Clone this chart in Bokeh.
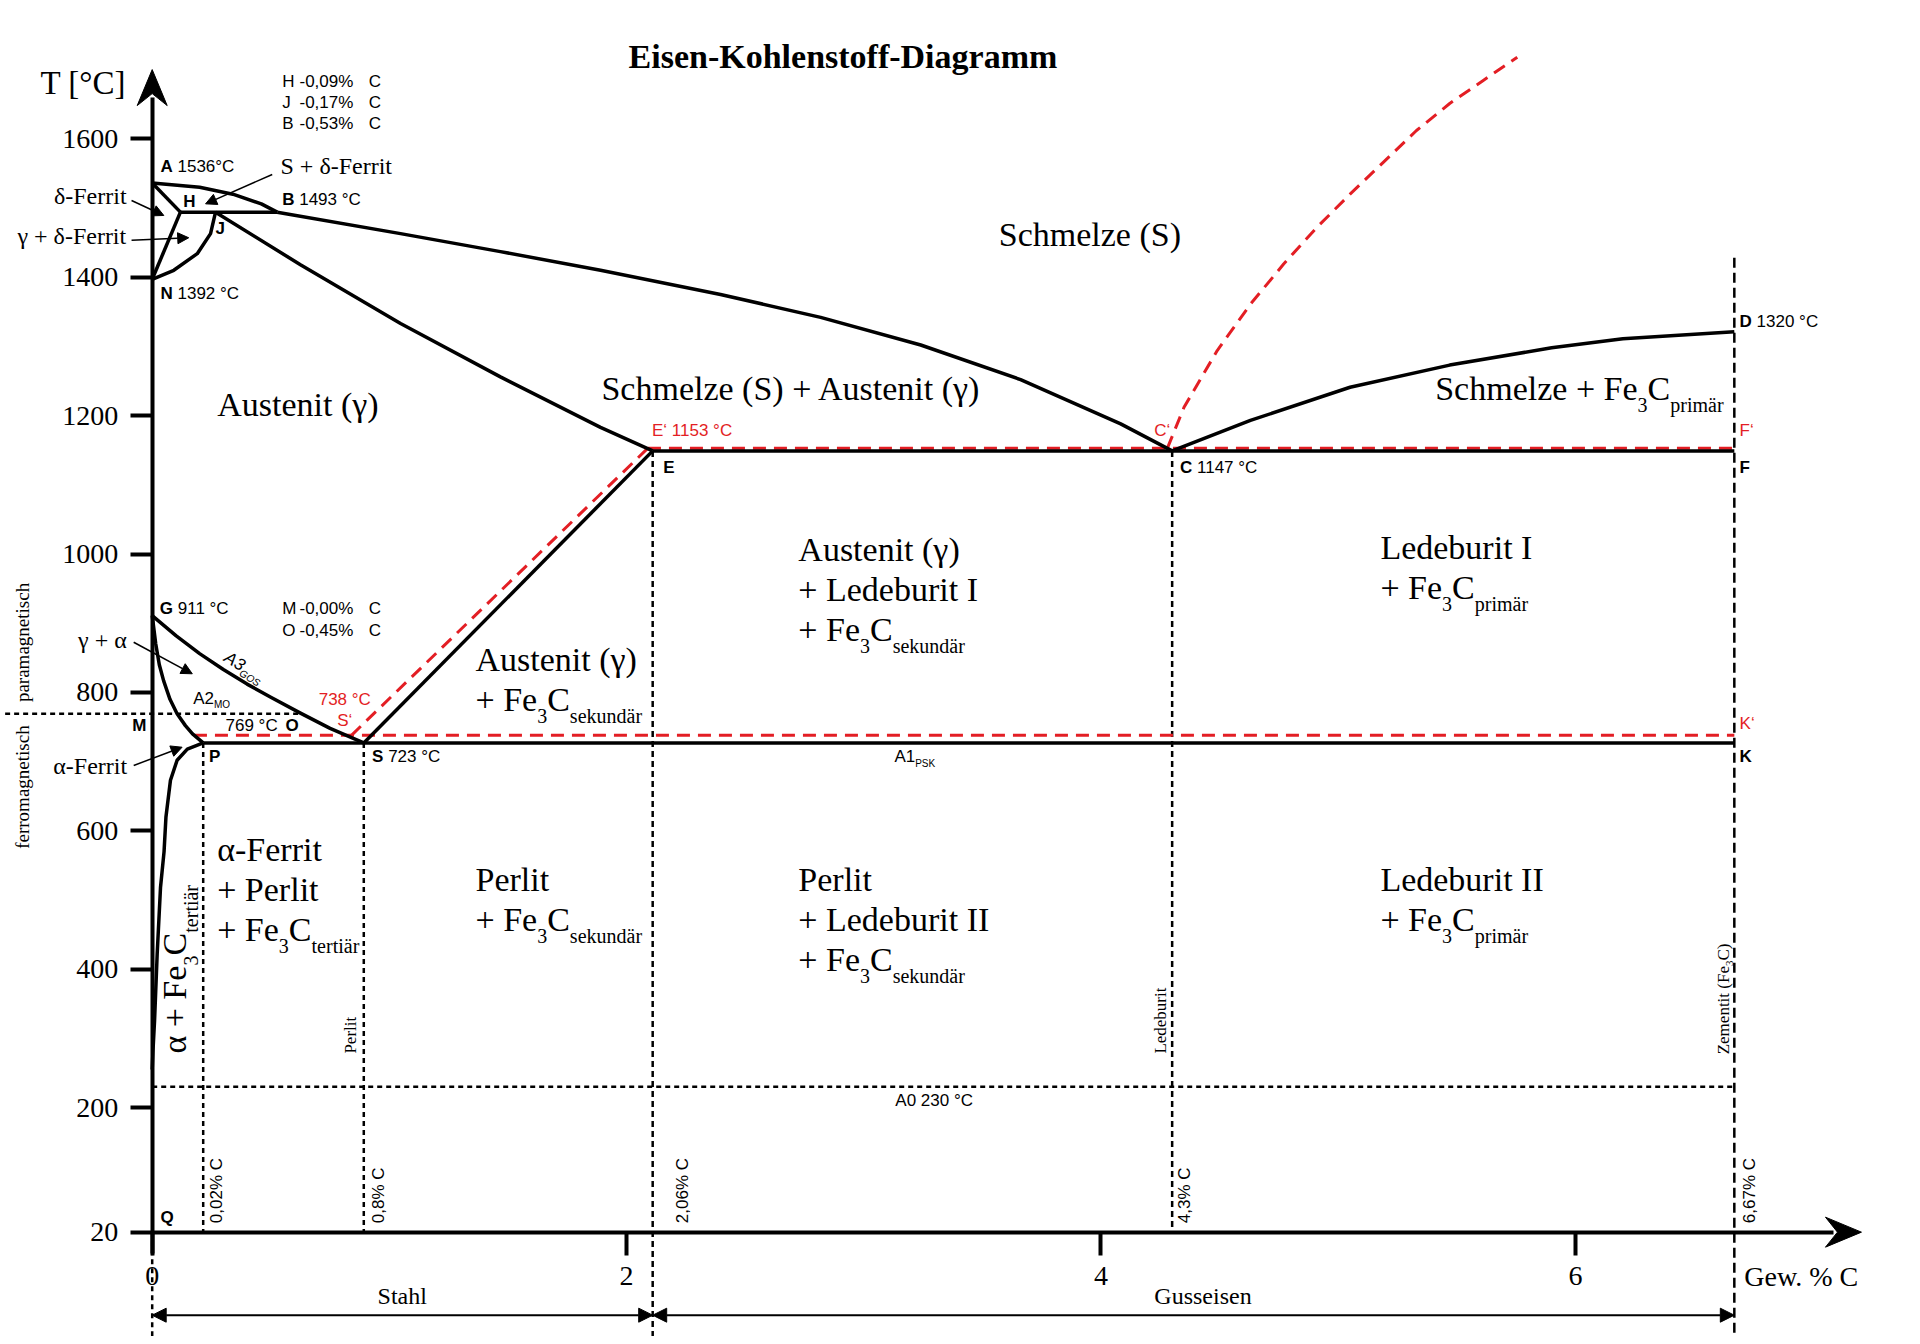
import math
from bokeh.plotting import figure
from bokeh.models import Range1d, LinearAxis, FixedTicker, Arrow, NormalHead
from bokeh.core.properties import value
from bokeh.embed import file_html
from bokeh.resources import INLINE

# ---------------- axis values ----------------
y_ticks = [20, 200, 400, 600, 800, 1000, 1200, 1400, 1600]
x_ticks = [0, 2, 4, 6]

# ---------------- phase boundaries (wt.-% C, °C) ----------------
liq_AB_x = [0.0, 0.20, 0.34, 0.46, 0.527]
liq_AB_t = [1536, 1530, 1520, 1506, 1494]
sol_AH_x = [0.0, 0.119]
sol_AH_t = [1536, 1494]
lin_NH_x = [0.0, 0.119]
lin_NH_t = [1397, 1494]
lin_NJ_x = [0.0, 0.091, 0.19, 0.246, 0.267]
lin_NJ_t = [1397, 1410, 1434, 1463, 1494]
per_HB_x = [0.119, 0.527]
per_HB_t = [1494, 1494]
liq_BC_x = [0.527, 1.047, 1.468, 1.890, 2.396, 2.818, 3.240, 3.661, 4.083, 4.30]
liq_BC_t = [1494, 1463, 1437, 1410, 1375, 1342, 1302, 1252, 1188, 1149]
sol_JE_x = [0.267, 0.625, 1.047, 1.468, 1.890, 2.11]
sol_JE_t = [1494, 1418, 1333, 1256, 1183, 1149]
liq_CD_x = [4.30, 4.63, 5.05, 5.47, 5.90, 6.20, 6.67]
liq_CD_t = [1149, 1193, 1241, 1273, 1298, 1311, 1321]
eut_ECF_x = [2.11, 6.67]
eut_ECF_t = [1149, 1149]
a3_GS_x = [0.0, 0.1, 0.2, 0.3, 0.4, 0.5, 0.625, 0.75, 0.892]
a3_GS_t = [911, 882, 856, 833, 812, 793, 770, 748, 727]
a2_GP_x = [0.0, 0.015, 0.03, 0.048, 0.075, 0.105, 0.14, 0.17, 0.215]
a2_GP_t = [911, 870, 840, 817, 790, 769, 752, 740, 727]
sol_PQ_x = [0.215, 0.148, 0.105, 0.077, 0.058, 0.05, 0.035, 0.021, 0.01, 0.003, 0.0]
sol_PQ_t = [727, 718, 702, 673, 620, 570, 518, 422, 326, 280, 255]
acm_SE_x = [0.892, 2.11]
acm_SE_t = [727, 1149]
eut_PSK_x = [0.215, 6.67]
eut_PSK_t = [727, 727]

# stable system (graphite), red dashed
st_EF_x = [2.09, 6.67]
st_EF_t = [1153, 1153]
st_SK_x = [0.176, 6.67]
st_SK_t = [738, 738]
st_SE_x = [0.84, 2.09]
st_SE_t = [738, 1153]
st_C_x = [4.28, 4.35, 4.49, 4.63, 4.77, 4.91, 5.05, 5.19, 5.33, 5.47, 5.61, 5.755]
st_C_t = [1153, 1212, 1294, 1361, 1419, 1472, 1520, 1566, 1612, 1651, 1684, 1718]

# guide lines
curie_x = [-0.62, 0.625]
curie_t = [769, 769]
a0_x = [0.0, 6.67]
a0_t = [230, 230]
comp_x = [0.0, 0.215, 0.892, 2.11, 4.30, 6.67]
comp_top = [20, 727, 727, 1149, 1149, 1428]
comp_bottom = [-140, 20, 20, -140, 20, -140]
comp_dash = ["5 4", "5 4", "5 4", "6 4", "6 4", "10 5"]

# ranges of steel / cast iron
stahl_x = [0.0, 2.11]
guss_x = [2.11, 6.67]
range_t = -100

# ---------------- figure ----------------
W_FRAME, H_FRAME = 1904, 1336
X0, X1 = -0.63954, 7.38744
T0, T1 = -130.78, 1799.86
SX = W_FRAME / (X1 - X0)   # px per wt.-%
SY = H_FRAME / (T1 - T0)   # px per °C

RED = "#E31E24"
BLACK = "black"

p = figure(frame_width=W_FRAME, frame_height=H_FRAME,
           x_range=Range1d(X0, X1), y_range=Range1d(T0, T1),
           x_axis_location=None, y_axis_location=None,
           toolbar_location=None, output_backend="svg",
           min_border=0, outline_line_color=None, title=None)
p.grid.visible = False
p.background_fill_color = "white"

Y_TIP = 1700.0
X_TIP = 7.206

yaxis = LinearAxis(fixed_location=0, ticker=FixedTicker(ticks=y_ticks),
                   bounds=(-11, Y_TIP - 28 / SY))
xaxis = LinearAxis(fixed_location=20, ticker=FixedTicker(ticks=x_ticks),
                   bounds=(0, X_TIP - 28 / SX))
for ax, tout, stand in ((yaxis, 22, 12), (xaxis, 23, 12)):
    ax.axis_line_width = 4
    ax.axis_line_color = BLACK
    ax.major_tick_line_width = 4
    ax.major_tick_line_color = BLACK
    ax.major_tick_out = tout
    ax.major_tick_in = 0
    ax.minor_tick_out = 0
    ax.minor_tick_in = 0
    ax.major_label_text_font = "Liberation Serif"
    ax.major_label_text_font_size = "28px"
    ax.major_label_text_color = BLACK
    ax.major_label_standoff = stand
p.add_layout(yaxis, "left")
p.add_layout(xaxis, "below")

# axis arrow heads (stealth shape)
L, N, Wd = 36, 24, 15
p.patch(x=[0, Wd / SX, 0, -Wd / SX],
        y=[Y_TIP, Y_TIP - L / SY, Y_TIP - N / SY, Y_TIP - L / SY],
        color=BLACK, line_width=1)
p.patch(x=[X_TIP, X_TIP - L / SX, X_TIP - N / SX, X_TIP - L / SX],
        y=[20, 20 + Wd / SY, 20, 20 - Wd / SY],
        color=BLACK, line_width=1)

# ---------------- guide lines ----------------
for xv, t_a, t_b, dash in zip(comp_x, comp_top, comp_bottom, comp_dash):
    p.line([xv, xv], [t_a, t_b], line_color=BLACK, line_width=2.5, line_dash=dash)
p.line(curie_x, curie_t, line_color=BLACK, line_width=2.5, line_dash="5 4")
p.line(a0_x, a0_t, line_color=BLACK, line_width=2.5, line_dash="5 4")

# ---------------- red (stable system) ----------------
for xs, ts in ((st_EF_x, st_EF_t), (st_SK_x, st_SK_t), (st_SE_x, st_SE_t), (st_C_x, st_C_t)):
    p.line(xs, ts, line_color=RED, line_width=3, line_dash="13 8")

# ---------------- black phase boundaries ----------------
solid = [(liq_AB_x, liq_AB_t), (sol_AH_x, sol_AH_t), (lin_NH_x, lin_NH_t), (lin_NJ_x, lin_NJ_t),
         (per_HB_x, per_HB_t), (liq_BC_x, liq_BC_t), (sol_JE_x, sol_JE_t), (liq_CD_x, liq_CD_t),
         (eut_ECF_x, eut_ECF_t), (a3_GS_x, a3_GS_t), (a2_GP_x, a2_GP_t), (sol_PQ_x, sol_PQ_t),
         (acm_SE_x, acm_SE_t), (eut_PSK_x, eut_PSK_t)]
for xs, ts in solid:
    p.line(xs, ts, line_color=BLACK, line_width=3.5, line_join="round")

# ---------------- text helpers ----------------
SERIF_W = {' ': 250, '+': 564, '(': 333, ')': 333, '[': 333, ']': 333, '-': 333, '.': 250, ',': 250,
           '%': 833, '°': 400, 'A': 722, 'C': 667, 'D': 722, 'E': 611, 'F': 556, 'G': 722, 'I': 333,
           'K': 722, 'L': 611, 'P': 556, 'S': 556, 'T': 611, 'Z': 611, 'a': 444, 'b': 500, 'c': 444,
           'd': 500, 'e': 444, 'f': 333, 'g': 500, 'h': 500, 'i': 278, 'k': 500, 'l': 278, 'm': 778,
           'n': 500, 'o': 500, 'p': 500, 'r': 333, 's': 389, 't': 278, 'u': 500, 'w': 722, 'z': 444,
           'ä': 444, 'α': 531, 'γ': 458, 'δ': 500}
SERIFB_W = {'E': 667, 'i': 278, 's': 389, 'e': 444, 'n': 556, '-': 333, 'K': 778, 'o': 500, 'h': 556,
            'l': 278, 't': 333, 'f': 333, 'D': 722, 'a': 500, 'g': 500, 'r': 444, 'm': 833}
SANS_W = {' ': 278, ',': 278, '-': 333, '%': 889, '°': 400, '‘': 222, 'A': 667, 'B': 667, 'C': 722,
          'D': 722, 'E': 667, 'F': 611, 'G': 778, 'H': 722, 'J': 500, 'K': 667, 'M': 833, 'N': 722,
          'O': 778, 'P': 667, 'Q': 778, 'S': 667}
SANSB_W = {' ': 278, 'A': 722, 'B': 722, 'C': 722, 'D': 722, 'E': 667, 'F': 611, 'G': 778, 'H': 722,
           'J': 556, 'K': 722, 'M': 833, 'N': 722, 'O': 778, 'P': 667, 'Q': 778, 'S': 667}
for d in (SANS_W, SANSB_W):
    for c in "0123456789":
        d[c] = 556
FONTS = {"serif": ("Liberation Serif", "normal", SERIF_W),
         "serifb": ("Liberation Serif", "bold", SERIFB_W),
         "sans": ("Liberation Sans", "normal", SANS_W),
         "sansb": ("Liberation Sans", "bold", SANSB_W),
         "sansi": ("Liberation Sans", "italic", SANS_W)}
BASE_FIX = 0.32   # renderer places the alphabetic baseline this many em too low


def tw(s, size, kind):
    table = FONTS[kind][2]
    return sum(table.get(ch, 500) for ch in s) * size / 1000.0


def rich(x, y, parts, angle=0.0, color=BLACK, align="left"):
    total = sum(tw(t, s, k) for t, s, k, _ in parts)
    cum = {"left": 0.0, "center": -total / 2, "right": -total}[align]
    ca, sa = math.cos(angle), math.sin(angle)
    for t, s, k, shift in parts:
        body = t.lstrip(' ')
        cum += tw(t[:len(t) - len(body)], s, k)
        sh = shift - BASE_FIX * s
        ox = cum * ca + sh * sa
        oy = cum * sa - sh * ca
        font, style, _ = FONTS[k]
        p.text(x=[x + ox / SX], y=[y + oy / SY], text=[body], angle=angle,
               text_font=value(font), text_font_style=style, text_font_size=f"{s}px",
               text_color=color, text_align="left", text_baseline="alphabetic")
        cum += tw(body, s, k)


BIG, SUB, DROP = 34, 20, 12


def fe3c(sub, lead="+ Fe"):
    return [(lead, BIG, "serif", 0), ("3", SUB, "serif", DROP), ("C", BIG, "serif", 0), (sub, SUB, "serif", DROP)]


# title and axis titles
rich(2.912, 1702.6, [("Eisen-Kohlenstoff-Diagramm", 34, "serifb", 0)], align="center")
rich(-0.471, 1665, [("T [°C]", 33, "serif", 0)])
rich(6.956, -57.5, [("Gew. % C", 28, "serif", 0)], align="center")
rich(1.054, -83, [("Stahl", 24, "serif", 0)], align="center")
rich(4.430, -83, [("Gusseisen", 24, "serif", 0)], align="center")

# composition legends
legend_a = [("H", "-0,09%", 1675.6), ("J", "-0,17%", 1644.8), ("B", "-0,53%", 1613.9)]
legend_b = [("M", "-0,00%", 913), ("O", "-0,45%", 882)]
for letter, val, tt in legend_a + legend_b:
    rich(0.548, tt, [(letter, 17, "sans", 0)])
    rich(0.621, tt, [(val, 17, "sans", 0)])
    rich(0.913, tt, [("C", 17, "sans", 0)])

# point labels
points = [("A", " 1536°C", 0.035, 1552), ("H", "", 0.131, 1501), ("B", " 1493 °C", 0.548, 1504),
          ("J", "", 0.267, 1462), ("N", " 1392 °C", 0.035, 1369), ("G", " 911 °C", 0.032, 913),
          ("M", "", -0.084, 745), ("O", "", 0.562, 745), ("P", "", 0.239, 699),
          ("S", " 723 °C", 0.927, 699), ("E", "", 2.154, 1117), ("C", " 1147 °C", 4.333, 1117),
          ("D", " 1320 °C", 6.692, 1328), ("F", "", 6.692, 1117), ("K", "", 6.692, 699),
          ("Q", "", 0.035, 34)]
for letter, rest, xx, tt in points:
    parts = [(letter, 17, "sansb", 0)]
    if rest:
        parts.append((rest, 17, "sans", 0))
    rich(xx, tt, parts)
rich(0.309, 745, [("769 °C", 17, "sans", 0)])
rich(3.133, 202, [("A0 230 °C", 17, "sans", 0)])
rich(3.129, 699, [("A1", 17, "sans", 0), ("PSK", 10, "sans", 4)])
rich(0.173, 783.5, [("A2", 17, "sans", 0), ("MO", 10, "sans", 4)])
rich(0.299, 846, [("A3", 17, "sansi", 0), ("GOS", 10, "sansi", 4)], angle=-0.55)

red_labels = [("738 °C", 0.702, 782), ("S‘", 0.78, 751), ("E‘ 1153 °C", 2.107, 1171),
              ("C‘", 4.224, 1171), ("F‘", 6.692, 1171), ("K‘", 6.692, 747)]
for txt, xx, tt in red_labels:
    rich(xx, tt, [(txt, 17, "sans", 0)], color=RED)

# rotated composition marks
pct_labels = [("0,02% C", 0.294), ("0,8% C", 0.979), ("2,06% C", 2.257), ("4,3% C", 4.377), ("6,67% C", 6.755)]
for txt, xx in pct_labels:
    rich(xx, 33, [(txt, 17, "sans", 0)], angle=math.pi / 2)
rich(0.858, 278, [("Perlit", 17, "serif", 0)], angle=math.pi / 2)
rich(4.272, 278, [("Ledeburit", 17, "serif", 0)], angle=math.pi / 2)
rich(6.646, 277, [("Zementit (Fe", 17, "serif", 0), ("3", 11, "serif", 4), ("C)", 17, "serif", 0)],
     angle=math.pi / 2)
rich(-0.523, 574, [("ferromagnetisch", 19, "serif", 0)], angle=math.pi / 2)
rich(-0.523, 786, [("paramagnetisch", 19, "serif", 0)], angle=math.pi / 2)
rich(0.140, 278, fe3c("tertiär", lead="α + Fe"), angle=math.pi / 2)

# side labels with leader arrows
side = [("δ-Ferrit", 1506), ("γ + δ-Ferrit", 1448), ("γ + α", 865), ("α-Ferrit", 682)]
for txt, tt in side:
    rich(-0.105, tt, [(txt, 24, "serif", 0)], align="right")
rich(0.541, 1549, [("S + δ-Ferrit", 24, "serif", 0)])
leaders = [(-0.087, 1510.8, 0.049, 1489.2), (-0.087, 1453.4, 0.154, 1457.0),
           (0.506, 1548.4, 0.225, 1506.0), (-0.078, 872.5, 0.169, 826.9),
           (-0.078, 694.4, 0.126, 720.8)]
for xs_, ys_, xe_, ye_ in leaders:
    p.add_layout(Arrow(end=NormalHead(size=11, fill_color=BLACK, line_color=BLACK, line_width=1),
                       x_start=xs_, y_start=ys_, x_end=xe_, y_end=ye_,
                       line_width=1.5, line_color=BLACK))

# steel / cast-iron ranges
for xs in (stahl_x, guss_x):
    p.add_layout(Arrow(start=NormalHead(size=14, fill_color=BLACK, line_color=BLACK, line_width=1),
                       end=NormalHead(size=14, fill_color=BLACK, line_color=BLACK, line_width=1),
                       x_start=xs[0], y_start=range_t, x_end=xs[1], y_end=range_t,
                       line_width=2, line_color=BLACK))

# phase-field labels
rich(3.569, 1446, [("Schmelze (S)", BIG, "serif", 0)])
rich(1.894, 1224, [("Schmelze (S) + Austenit (γ)", BIG, "serif", 0)])
rich(5.409, 1224, fe3c("primär", lead="Schmelze + Fe"))
rich(0.274, 1200, [("Austenit (γ)", BIG, "serif", 0)])

rich(2.724, 990.6, [("Austenit (γ)", BIG, "serif", 0)])
rich(2.724, 932.8, [("+ Ledeburit I", BIG, "serif", 0)])
rich(2.724, 875.0, fe3c("sekundär"))

rich(5.178, 993.1, [("Ledeburit I", BIG, "serif", 0)])
rich(5.178, 935.3, fe3c("primär"))

rich(1.363, 831.7, [("Austenit (γ)", BIG, "serif", 0)])
rich(1.363, 773.9, fe3c("sekundär"))

rich(0.274, 557.1, [("α-Ferrit", BIG, "serif", 0)])
rich(0.274, 499.3, [("+ Perlit", BIG, "serif", 0)])
rich(0.274, 441.5, fe3c("tertiär"))

rich(1.363, 513.7, [("Perlit", BIG, "serif", 0)])
rich(1.363, 455.9, fe3c("sekundär"))

rich(2.724, 513.7, [("Perlit", BIG, "serif", 0)])
rich(2.724, 455.9, [("+ Ledeburit II", BIG, "serif", 0)])
rich(2.724, 398.1, fe3c("sekundär"))

rich(5.178, 513.7, [("Ledeburit II", BIG, "serif", 0)])
rich(5.178, 455.9, fe3c("primär"))

open("out.html", "w").write(file_html(p, INLINE))
